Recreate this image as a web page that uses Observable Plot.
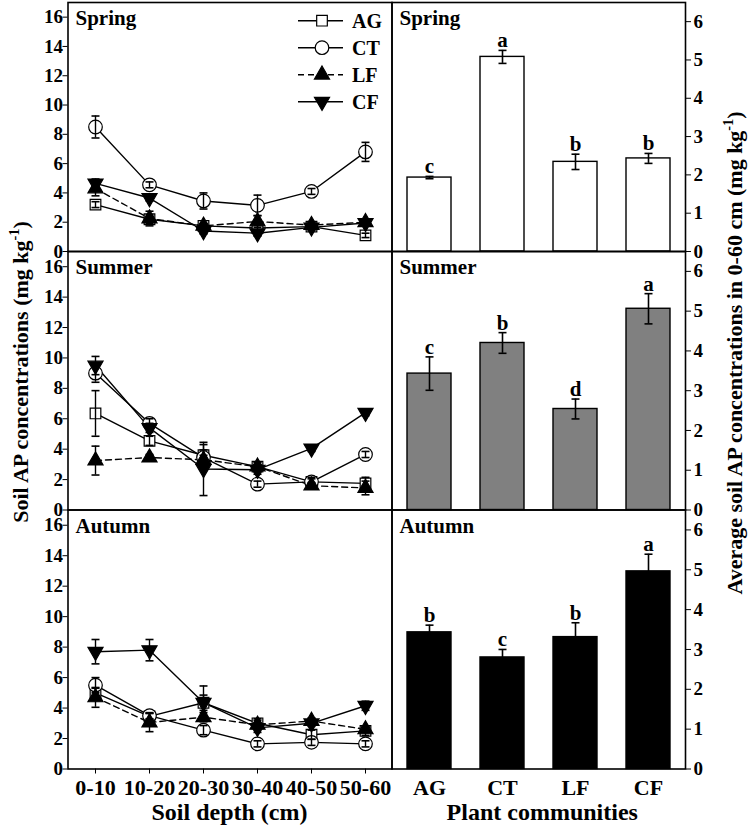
<!DOCTYPE html>
<html><head><meta charset="utf-8">
<script src="https://cdn.jsdelivr.net/npm/d3@7"></script>
<script src="https://cdn.jsdelivr.net/npm/@observablehq/plot@0.6"></script>
<style>
body{margin:0;background:#fff;}
#chart{position:relative;width:749px;height:828px;background:#fff;}
#chart svg{position:absolute;left:0;top:0;overflow:visible;}
</style></head><body><div id="chart"></div>
<script>
const depths = ["0-10","10-20","20-30","30-40","40-50","50-60"];
const communities = ["AG","CT","LF","CF"];
const seasons = ["Spring","Summer","Autumn"];

// Depth profiles (mg kg-1); rows follow communities: AG, CT, LF, CF
const springMean = [
  [3.2, 2.2, 1.75, 1.6, 1.7, 1.1],
  [8.5, 4.55, 3.45, 3.15, 4.1, 6.8],
  [4.3, 2.25, 1.75, 2.05, 1.8, 2.0],
  [4.65, 3.65, 1.4, 1.25, 1.65, 1.95]
];
const springSE = [
  [0.2, 0.3, 0.15, 0.2, 0.15, 0.15],
  [0.75, 0.2, 0.55, 0.7, 0.2, 0.65],
  [0.5, 0.5, 0.15, 0.4, 0.2, 0.15],
  [0.3, 0.2, 0.2, 0.2, 0.2, 0.15]
];
const summerMean = [
  [6.35, 4.55, 3.6, 2.85, 1.85, 1.75],
  [9.0, 5.7, 3.45, 1.7, 1.85, 3.65],
  [3.25, 3.45, 3.3, 2.85, 1.6, 1.45],
  [9.5, 5.4, 2.7, 2.65, 4.05, 6.4]
];
const summerSE = [
  [1.5, 0.3, 0.7, 0.3, 0.3, 0.4],
  [0.6, 0.3, 0.5, 0.2, 0.2, 0.2],
  [0.95, 0.2, 0.3, 0.3, 0.2, 0.45],
  [0.6, 0.3, 1.75, 0.3, 0.2, 0.2]
];
const autumnMean = [
  [5.0, 3.45, 4.35, 3.0, 2.25, 2.5],
  [5.5, 3.5, 2.55, 1.65, 1.75, 1.65],
  [4.7, 3.05, 3.4, 2.9, 3.15, 2.6],
  [7.7, 7.8, 4.35, 2.7, 3.0, 4.15]
];
const autumnSE = [
  [0.3, 0.2, 0.5, 0.3, 0.3, 0.3],
  [0.5, 0.2, 0.3, 0.2, 0.2, 0.2],
  [0.65, 0.6, 0.3, 0.3, 0.2, 0.2],
  [0.8, 0.7, 1.1, 0.3, 0.2, 0.3]
];

// Average 0-60 cm (mg kg-1), order: AG, CT, LF, CF
const springAvg = [1.93, 5.08, 2.34, 2.43];
const springAvgSE = [0.03, 0.17, 0.2, 0.13];
const springLetters = ["c","a","b","b"];
const summerAvg = [3.43, 4.2, 2.54, 5.06];
const summerAvgSE = [0.42, 0.26, 0.25, 0.38];
const summerLetters = ["c","b","d","a"];
const autumnAvg = [3.43, 2.8, 3.31, 4.96];
const autumnAvgSE = [0.18, 0.2, 0.36, 0.43];
const autumnLetters = ["b","c","b","a"];

const leftTicks = [0, 2, 4, 6, 8, 10, 12, 14, 16];
const rightTicks = [0, 1, 2, 3, 4, 5, 6];

const profileMeans = [springMean, summerMean, autumnMean];
const profileSEs = [springSE, summerSE, autumnSE];
const avgs = [springAvg, summerAvg, autumnAvg];
const avgSEs = [springAvgSE, summerAvgSE, autumnAvgSE];
const letters = [springLetters, summerLetters, autumnLetters];
const barFills = ["white", "#808080", "black"];

// ---------- layout ----------
const W = 749, H = 828;
const rows = [{top: 2, bottom: 251}, {top: 251, bottom: 509.5}, {top: 509.5, bottom: 768.5}];
const colL = {left: 67.5, right: 391.5};
const colR = {left: 391.5, right: 685};
const FONT = "'Liberation Serif','Times New Roman',serif";
const container = document.getElementById("chart");

const sqrt3 = Math.sqrt(3);
function tri(up) {
  return {draw(ctx, size) {
    const y = -Math.sqrt(size / (sqrt3 * 3));
    const s = up ? 1 : -1;
    ctx.moveTo(0, s * y * 2);
    ctx.lineTo(-sqrt3 * y, -s * y);
    ctx.lineTo(sqrt3 * y, -s * y);
    ctx.closePath();
  }};
}
const cap = {draw(ctx) { ctx.moveTo(-4, 0); ctx.lineTo(4, 0); }};
const seriesStyle = {
  AG: {symbol: "square", fill: "white", r: 6, dash: null},
  CT: {symbol: "circle", fill: "white", r: 6.8, dash: null},
  LF: {symbol: tri(true), fill: "black", r: 5.6, dash: "6,4"},
  CF: {symbol: tri(false), fill: "black", r: 5.6, dash: null}
};

function style(fs) {
  return {fontFamily: FONT, fontWeight: "bold", fontSize: fs + "px", color: "black",
          background: "transparent", overflow: "visible"};
}

seasons.forEach((season, si) => {
  const row = rows[si];
  // ----- left: depth profiles -----
  const prof = [];
  communities.forEach((c, ci) => depths.forEach((d, di) => {
    prof.push({season, community: c, depth: d, v: profileMeans[si][ci][di], e: profileSEs[si][ci][di]});
  }));
  const marks = [];
  communities.forEach(c => {
    const s = seriesStyle[c];
    marks.push(Plot.line(prof.filter(d => d.community === c), {
      x: "depth", y: "v", stroke: "black", strokeWidth: 1.4, strokeDasharray: s.dash
    }));
  });
  communities.forEach(c => {
    const s = seriesStyle[c];
    marks.push(Plot.dot(prof.filter(d => d.community === c), {
      x: "depth", y: "v", symbol: s.symbol, r: s.r, fill: s.fill, stroke: "black", strokeWidth: 1.2
    }));
  });
  marks.push(Plot.ruleX(prof, {x: "depth", y1: d => d.v - d.e, y2: d => d.v + d.e, stroke: "black", strokeWidth: 1.4}));
  marks.push(Plot.dot(prof, {x: "depth", y: d => d.v + d.e, symbol: cap, fill: "none", stroke: "black", strokeWidth: 1.6}));
  marks.push(Plot.dot(prof, {x: "depth", y: d => d.v - d.e, symbol: cap, fill: "none", stroke: "black", strokeWidth: 1.6}));
  marks.push(Plot.axisY(leftTicks, {tickSize: 5, tickPadding: 0, fontSize: 19, label: null}));
  if (si === 2) marks.push(Plot.axisX({tickSize: 5, tickPadding: 5, fontSize: 22, label: null}));
  marks.push(Plot.text([season], {frameAnchor: "top-left", text: d => d, dx: 7.5, dy: 8, lineAnchor: "top", fontSize: 21}));
  marks.push(Plot.frame({stroke: "black", strokeWidth: 1.6}));
  const left = Plot.plot({
    width: W, height: H,
    marginLeft: colL.left, marginRight: W - colL.right,
    marginTop: row.top, marginBottom: H - row.bottom,
    x: {type: "point", domain: depths, padding: 0.5, axis: si === 2 ? undefined : null},
    y: {domain: [0, 17]},
    style: style(19),
    marks
  });
  container.appendChild(left);

  // ----- right: averages -----
  const avg = communities.map((c, ci) => ({season, community: c, v: avgs[si][ci], e: avgSEs[si][ci], letter: letters[si][ci]}));
  const rmarks = [
    Plot.barY(avg, {x: "community", y: "v", fill: barFills[si], stroke: "black", strokeWidth: 1.4}),
    Plot.ruleX(avg, {x: "community", y1: d => d.v - d.e, y2: d => d.v + d.e, stroke: "black", strokeWidth: 1.6}),
    Plot.dot(avg, {x: "community", y: d => d.v + d.e, symbol: cap, fill: "none", stroke: "black", strokeWidth: 1.6}),
    Plot.dot(avg, {x: "community", y: d => d.v - d.e, symbol: cap, fill: "none", stroke: "black", strokeWidth: 1.6}),
    Plot.text(avg, {x: "community", y: d => d.v + d.e, text: "letter", lineAnchor: "bottom", dy: -3, fontSize: 21}),
    Plot.axisY(rightTicks, {anchor: "right", tickSize: 5, tickPadding: 3, fontSize: 19, label: null}),
    Plot.text([season], {frameAnchor: "top-left", text: d => d, dx: 7.5, dy: 8, lineAnchor: "top", fontSize: 21}),
    Plot.frame({stroke: "black", strokeWidth: 1.6})
  ];
  if (si === 2) rmarks.push(Plot.axisX({tickSize: 0, tickPadding: 10, fontSize: 22, label: null}));
  const right = Plot.plot({
    width: W, height: H,
    marginLeft: colR.left, marginRight: W - colR.right,
    marginTop: row.top, marginBottom: H - row.bottom,
    x: {type: "band", domain: communities, paddingInner: 0.4, paddingOuter: 0.2, axis: si === 2 ? undefined : null},
    y: {domain: [0, 6.5]},
    style: style(19),
    marks: rmarks
  });
  container.appendChild(right);
});

// ---------- titles & legend overlay ----------
const ov = d3.select(container).append("svg")
  .attr("width", W).attr("height", H)
  .style("font-family", FONT).style("font-weight", "bold");

function rotTitle(x, y, main, fs) {
  const t = ov.append("text").attr("transform", `translate(${x},${y}) rotate(-90)`)
    .attr("text-anchor", "middle").attr("font-size", fs);
  t.append("tspan").text(main + " (mg kg");
  t.append("tspan").attr("font-size", fs * 0.65).attr("dy", -fs * 0.42).text("-1");
  t.append("tspan").attr("dy", fs * 0.42).text(")");
}
rotTitle(28, 372, "Soil AP concentrations", 22);
rotTitle(742, 353, "Average soil AP concentrations in 0-60 cm", 22);

ov.append("text").attr("x", (colL.left + colL.right) / 2).attr("y", 820)
  .attr("text-anchor", "middle").attr("font-size", 24).text("Soil depth (cm)");
ov.append("text").attr("x", (colR.left + colR.right) / 2 + 4).attr("y", 820)
  .attr("text-anchor", "middle").attr("font-size", 24).text("Plant communities");

// legend
communities.forEach((c, i) => {
  const s = seriesStyle[c];
  const cy = 20.7 + i * 27;
  const g = ov.append("g");
  g.append("line").attr("x1", 298).attr("x2", 343).attr("y1", cy).attr("y2", cy)
    .attr("stroke", "black").attr("stroke-width", 1.4).attr("stroke-dasharray", s.dash);
  const symType = s.symbol === "square" ? d3.symbolSquare : s.symbol === "circle" ? d3.symbolCircle : s.symbol;
  g.append("path").attr("transform", `translate(322,${cy})`)
    .attr("d", d3.symbol(symType, Math.PI * s.r * s.r)())
    .attr("fill", s.fill).attr("stroke", "black").attr("stroke-width", 1.2);
  g.append("text").attr("x", 352).attr("y", cy + 7).attr("font-size", 20).text(c);
});
</script></body></html>
